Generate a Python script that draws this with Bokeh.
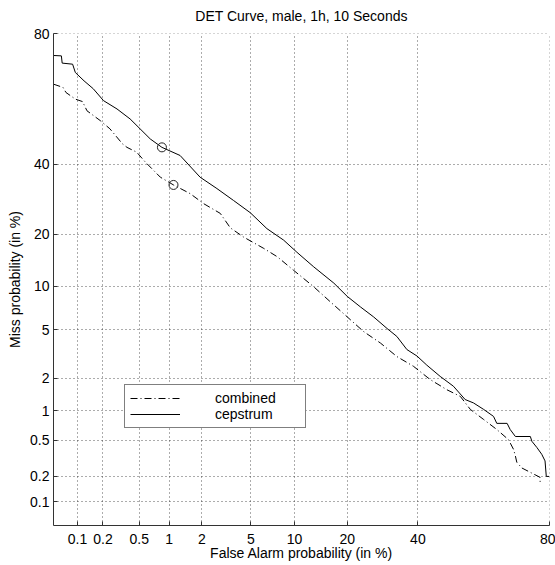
from statistics import NormalDist
from bokeh.plotting import figure
from bokeh.models import FixedTicker, CustomJSTickFormatter, Legend, LegendItem, Range1d
from bokeh.embed import file_html
from bokeh.resources import INLINE

TITLE = "DET Curve, male, 1h, 10 Seconds"
X_LABEL = "False Alarm probability (in %)"
Y_LABEL = "Miss probability (in %)"

tick_pct = [0.1, 0.2, 0.5, 1, 2, 5, 10, 20, 40, 80]
tick_labels = ["0.1", "0.2", "0.5", "1", "2", "5", "10", "20", "40", "80"]
axis_min_pct = 0.05
axis_max_pct = 80

# cepstrum system (false alarm %, miss %)
cep_fa = [0.05, 0.063, 0.0645, 0.087, 0.094, 0.12, 0.154, 0.203, 0.288, 0.40,
          0.51, 0.65, 0.85, 1.27, 1.93, 2.69, 3.67, 4.94, 6.53, 8.5,
          10.35, 13.1, 17.0, 20.0, 23.2, 26.7, 30.5, 33.4, 36.5, 39.7,
          42.9, 47.3, 51.7, 55.6, 58.3, 61.6, 64.7, 65.7, 68.8, 69.7,
          71.2, 75.3, 75.7, 77.0, 78.2, 79.0, 79.3, 80.0]
cep_miss = [74.5, 74.4, 72.4, 72.1, 69.7, 67.2, 64.8, 61.0, 58.3, 55.0,
            51.7, 48.3, 45.5, 42.8, 35.8, 32.3, 28.8, 25.4, 21.3, 18.6,
            16.0, 13.2, 10.5, 8.6, 7.3, 6.2, 5.1, 4.44, 3.5, 3.1,
            2.6, 2.08, 1.7, 1.28, 1.19, 1.03, 0.88, 0.75, 0.75, 0.65,
            0.55, 0.55, 0.49, 0.42, 0.355, 0.30, 0.20, 0.20]

# combined system (false alarm %, miss %)
comb_fa = [0.05, 0.066, 0.072, 0.094, 0.115, 0.13, 0.187, 0.24, 0.33, 0.37,
           0.47, 0.58, 0.82, 1.1, 1.57, 2.07, 2.87, 3.46, 4.4, 6.2,
           7.7, 9.85, 13.1, 16.3, 20.0, 24.0, 28.6, 33.4, 38.6, 44.0,
           49.5, 54.0, 57.3, 61.6, 65.7, 69.2, 70.7, 71.2, 71.6, 73.0,
           77.8, 77.8]
comb_miss = [66.2, 65.2, 63.6, 61.5, 60.7, 57.7, 54.4, 51.7, 46.7, 45.5,
             43.9, 40.6, 35.8, 33.4, 30.8, 27.9, 25.2, 21.5, 19.3, 16.8,
             15.1, 12.6, 9.95, 7.9, 6.2, 4.84, 3.94, 3.07, 2.54, 1.95,
             1.58, 1.37, 1.03, 0.82, 0.65, 0.51, 0.40, 0.34, 0.29, 0.25,
             0.195, 0.16]

# minimum-cost operating points (false alarm %, miss %)
opt_fa = [0.85, 1.1]
opt_miss = [45.5, 33.4]

ND = NormalDist()


def dev(pcts):
    return [ND.inv_cdf(v / 100.0) for v in pcts]


FONT = "Liberation Sans"
AX_COL = "#333333"

p = figure(width=555, height=565, output_backend="svg", toolbar_location=None,
           x_range=Range1d(dev([axis_min_pct])[0], dev([axis_max_pct])[0] + 0.002),
           y_range=Range1d(dev([axis_min_pct])[0], dev([axis_max_pct])[0] + 0.002),
           min_border_left=53, min_border_right=6, min_border_top=33, min_border_bottom=40)
p.outline_line_color = None
p.background_fill_color = "white"
p.border_fill_color = "white"

p.title.text = TITLE
p.title.align = "center"
p.title.vertical_align = "top"
p.title.text_font = FONT
p.title.text_font_size = "14px"
p.title.text_font_style = "normal"
p.title.text_color = "black"
p.title.standoff = 15

tick_pos = dev(tick_pct)
fmt = CustomJSTickFormatter(args=dict(pos=tick_pos, labs=tick_labels), code="""
let best = 0, d = 1e9;
for (let i = 0; i < pos.length; i++) { const e = Math.abs(pos[i] - tick); if (e < d) { d = e; best = i; } }
return labs[best];
""")

for ax, lab in ((p.xaxis[0], X_LABEL), (p.yaxis[0], Y_LABEL)):
    ax.ticker = FixedTicker(ticks=tick_pos)
    ax.formatter = fmt
    ax.axis_label = lab
    ax.axis_label_text_font = FONT
    ax.axis_label_text_font_size = "14px"
    ax.axis_label_text_font_style = "normal"
    ax.axis_label_text_color = "black"
    ax.major_label_text_font = FONT
    ax.major_label_text_font_size = "14px"
    ax.major_label_text_color = "black"
    ax.axis_line_color = AX_COL
    ax.major_tick_line_color = AX_COL
    ax.major_tick_in = 4
    ax.major_tick_out = 0
    ax.minor_tick_line_color = None

p.xaxis.major_label_standoff = 8
p.xaxis.axis_label_standoff = -2
p.yaxis.major_label_standoff = 4
p.yaxis.axis_label_standoff = 4

for g in (p.xgrid[0], p.ygrid[0]):
    g.grid_line_color = "#222222"
    g.grid_line_alpha = 0.75
    g.grid_line_dash = "1 3"
    g.grid_line_width = 1

r_cep = p.line(dev(cep_fa), dev(cep_miss), line_color="black", line_width=1)
r_comb = p.line(dev(comb_fa), dev(comb_miss), line_color="black", line_width=1,
                line_dash="7 3 1 3")
p.scatter(dev(opt_fa), dev(opt_miss), marker="circle", size=9, fill_color=None,
          line_color="#222222", line_width=1)

legend = Legend(items=[LegendItem(label="combined", renderers=[r_comb]),
                       LegendItem(label="cepstrum", renderers=[r_cep])],
                location=(71, 97))
legend.label_text_font = FONT
legend.label_text_font_size = "14px"
legend.label_text_color = "black"
legend.glyph_width = 50
legend.glyph_height = 16
legend.label_height = 16
legend.label_width = 85
legend.label_standoff = 35
legend.padding = 5
legend.spacing = 0
legend.margin = 0
legend.border_line_color = "black"
legend.border_line_width = 1.5
legend.background_fill_color = "white"
legend.background_fill_alpha = 1
p.add_layout(legend)

open("out.html", "w").write(file_html(p, INLINE))
